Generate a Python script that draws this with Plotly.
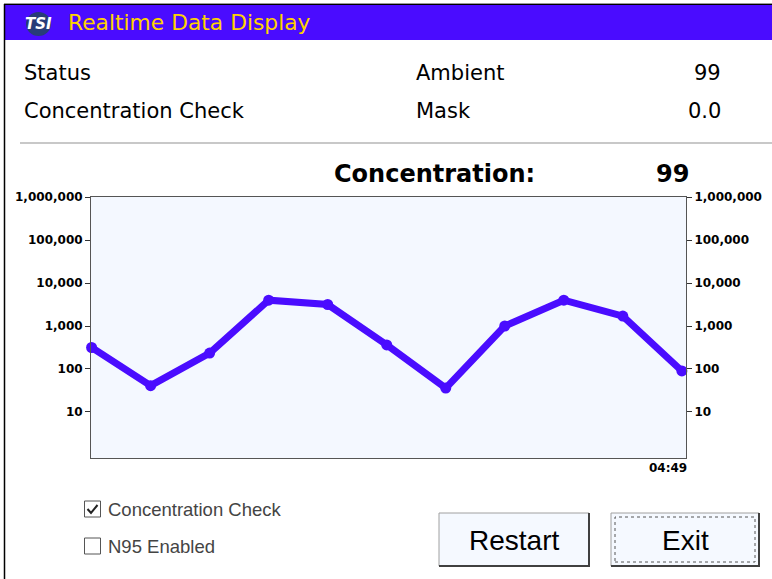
import plotly.graph_objects as go

# ---- data ----
sample_index = [0, 1, 2, 3, 4, 5, 6, 7, 8, 9, 10]
concentration = [316, 41, 234, 3980, 3160, 363, 36, 1000, 3980, 1700, 90]
y_tick_vals = [10, 100, 1000, 10000, 100000, 1000000]
y_tick_text = ["10", "100", "1,000", "10,000", "100,000", "1,000,000"]
time_label = "04:49"
status_rows = [("Status", "Ambient", "99"), ("Concentration Check", "Mask", "0.0")]
current_concentration = "99"
checkboxes = [("Concentration Check", True), ("N95 Enabled", False)]
buttons = ["Restart", "Exit"]

W, H = 772, 579
def px(x):
    return x / W
def py(y):
    return 1 - y / H

BLUE = "rgb(74,12,255)"
DEJAVU = "DejaVu Sans"
ARIAL = "Liberation Sans"

fig = go.Figure()
fig.add_trace(go.Scatter(
    x=sample_index, y=concentration, mode="lines+markers",
    line=dict(color=BLUE, width=7), marker=dict(color=BLUE, size=11),
    hoverinfo="skip", showlegend=False, cliponaxis=False))
fig.add_trace(go.Scatter(
    x=sample_index, y=concentration, mode="lines", yaxis="y2",
    line=dict(color="rgba(0,0,0,0)", width=0), hoverinfo="skip", showlegend=False))

axis_common = dict(
    type="log", range=[-0.07, 6], tickvals=y_tick_vals, ticktext=y_tick_text,
    ticks="outside", ticklen=5, tickwidth=1, tickcolor="#333",
    showgrid=False, zeroline=False, showline=True, linecolor="#555", linewidth=1,
    tickfont=dict(family=DEJAVU, size=12, color="black", weight="bold"),
    domain=[py(458), py(197)], fixedrange=True, automargin=False)

fig.update_layout(
    template="none",
    width=W, height=H, margin=dict(l=0, r=0, t=0, b=0, pad=0, autoexpand=False),
    paper_bgcolor="white", plot_bgcolor="#F4F8FF",
    xaxis=dict(range=[-0.01, 10.07], domain=[px(91), px(686)], showticklabels=False,
               ticks="", showgrid=False, zeroline=False, showline=True, mirror=True,
               linecolor="#555", linewidth=1, fixedrange=True, automargin=False),
    yaxis=dict(**axis_common, side="left"),
    yaxis2=dict(**axis_common, side="right", overlaying="y", matches="y"),
)

shapes = []
ann = []
# window frame & title bar
shapes.append(dict(type="rect", xref="paper", yref="paper", x0=px(5), x1=px(772), y0=py(40), y1=py(5),
                   fillcolor=BLUE, line=dict(width=0), layer="below"))
shapes.append(dict(type="line", xref="paper", yref="paper", x0=px(4), x1=px(772), y0=py(3.5), y1=py(3.5),
                   line=dict(color="#999", width=1)))
shapes.append(dict(type="line", xref="paper", yref="paper", x0=px(4.5), x1=px(4.5), y0=py(579), y1=py(4),
                   line=dict(color="black", width=1.5)))
shapes.append(dict(type="line", xref="paper", yref="paper", x0=px(4), x1=px(772), y0=py(4.5), y1=py(4.5),
                   line=dict(color="black", width=1)))
# logo
shapes.append(dict(type="circle", xref="paper", yref="paper", x0=px(26), x1=px(51), y0=py(36), y1=py(12),
                   fillcolor="rgb(40,60,120)", line=dict(width=0)))
ann.append(dict(x=px(38.5), y=py(24), xref="paper", yref="paper", text="<b><i>TSI</i></b>", showarrow=False,
                font=dict(family=DEJAVU, size=15, color="white"), xanchor="center", yanchor="middle"))
ann.append(dict(x=px(66), y=py(23), xref="paper", yref="paper", text="Realtime Data Display", showarrow=False,
                font=dict(family=DEJAVU, size=21.8, color="#FFD200"), xanchor="left", yanchor="middle"))

# status rows
row_y = [73, 111]
for (lab, mid, val), yy in zip(status_rows, row_y):
    ann.append(dict(x=px(22), y=py(yy), xref="paper", yref="paper", text=lab, showarrow=False,
                    font=dict(family=DEJAVU, size=21, color="black"), xanchor="left", yanchor="middle"))
    ann.append(dict(x=px(414), y=py(yy), xref="paper", yref="paper", text=mid, showarrow=False,
                    font=dict(family=DEJAVU, size=21, color="black"), xanchor="left", yanchor="middle"))
    ann.append(dict(x=px(723), y=py(yy), xref="paper", yref="paper", text=val, showarrow=False,
                    font=dict(family=DEJAVU, size=21, color="black"), xanchor="right", yanchor="middle"))
shapes.append(dict(type="line", xref="paper", yref="paper", x0=px(20), x1=px(772), y0=py(143), y1=py(143),
                   line=dict(color="#C8C8C8", width=2)))
ann.append(dict(x=px(332), y=py(174), xref="paper", yref="paper", text="<b>Concentration:</b>", showarrow=False,
                font=dict(family=DEJAVU, size=24, color="black"), xanchor="left", yanchor="middle"))
ann.append(dict(x=px(691), y=py(174), xref="paper", yref="paper", text="<b>" + current_concentration + "</b>",
                showarrow=False, font=dict(family=DEJAVU, size=24, color="black"), xanchor="right", yanchor="middle"))
# time label
ann.append(dict(x=px(689), y=py(468), xref="paper", yref="paper", text="<b>" + time_label + "</b>", showarrow=False,
                font=dict(family=DEJAVU, size=12, color="black"), xanchor="right", yanchor="middle"))

# checkboxes
cb_y = [509, 546]
for (lab, checked), yy in zip(checkboxes, cb_y):
    shapes.append(dict(type="rect", xref="paper", yref="paper", x0=px(84.5), x1=px(100.5), y0=py(yy + 8), y1=py(yy - 8),
                       fillcolor="white", line=dict(color="#555", width=1)))
    if checked:
        path = "M {} {} L {} {} L {} {}".format(px(87.5), py(yy), px(91), py(yy + 4), px(97.5), py(yy - 4))
        shapes.append(dict(type="path", xref="paper", yref="paper", path=path, line=dict(color="#222", width=2)))
    ann.append(dict(x=px(106), y=py(yy), xref="paper", yref="paper", text=lab, showarrow=False,
                    font=dict(family=ARIAL, size=18.5, color="#444"), xanchor="left", yanchor="middle"))

# buttons
btn_x = [(439, 589), (611, 759)]
for lab, (x0, x1) in zip(buttons, btn_x):
    y0, y1 = 513, 566
    shapes.append(dict(type="rect", xref="paper", yref="paper", x0=px(x0), x1=px(x1), y0=py(y1), y1=py(y0),
                       fillcolor="#F5F9FF", line=dict(color="#A0A0A0", width=1)))
    shapes.append(dict(type="path", xref="paper", yref="paper",
                       path="M {} {} L {} {} L {} {}".format(px(x0), py(y1), px(x1), py(y1), px(x1), py(y0)),
                       line=dict(color="#404040", width=2)))
    ann.append(dict(x=px((x0 + x1) / 2), y=py(540), xref="paper", yref="paper", text=lab, showarrow=False,
                    font=dict(family=ARIAL, size=28, color="black"), xanchor="center", yanchor="middle"))
# focus rectangle on Exit
shapes.append(dict(type="rect", xref="paper", yref="paper", x0=px(615), x1=px(755), y0=py(562), y1=py(517),
                   fillcolor="rgba(0,0,0,0)", line=dict(color="#555", width=1, dash="dot")))

fig.update_layout(shapes=shapes, annotations=ann)
page_css = ("var s=document.createElement('style');"
            "s.innerHTML='html,body{margin:0;padding:0;overflow:hidden;}';"
            "document.head.appendChild(s);")
fig.write_html("out.html", config={"displayModeBar": False}, post_script=page_css)
